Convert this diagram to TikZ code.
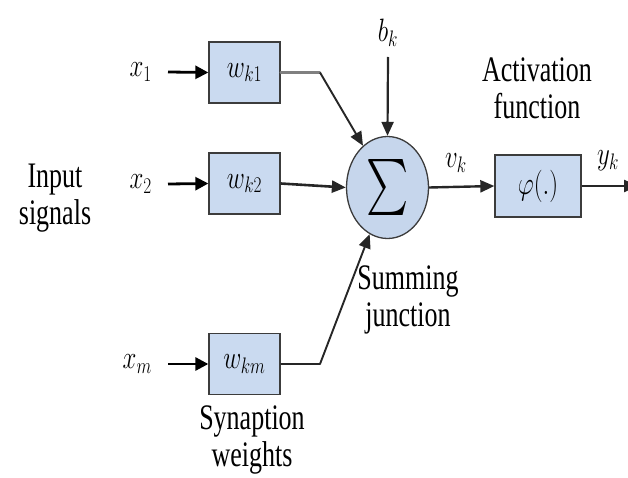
\documentclass[tikz,border=0pt]{standalone}
\usepackage{fontspec}
\setmainfont{Liberation Serif}
\usetikzlibrary{arrows.meta,shapes.geometric}
\definecolor{boxfill}{RGB}{202,218,240}
\definecolor{circfill}{RGB}{198,214,236}
\definecolor{edge}{RGB}{60,60,60}
\tikzset{
  wbox/.style={draw=edge,line width=1.3pt,fill=boxfill,minimum width=71pt,minimum height=61pt,inner sep=0pt},
  lbl/.style={font=\fontsize{26}{27}\selectfont,align=center,yscale=1.38,inner sep=0pt},
  mlbl/.style={font=\fontsize{25}{27}\selectfont,yscale=1.3,inner sep=0pt},
  inarrow/.style={line width=2.8pt,-{Triangle[length=13pt,width=13pt]}},
  conn/.style={line width=1.9pt,draw=black!85,line join=round,-{Triangle[length=14pt,width=12pt]}},
  seg/.style={line width=2.2pt,line cap=round},
}
\begin{document}
\begin{tikzpicture}[x=1pt,y=-1pt]
\useasboundingbox (0,0) rectangle (628,478);
% weight boxes
\node[wbox] (w1) at (244.5,72.5) {};
\node[wbox] (w2) at (244.5,183.5) {};
\node[wbox] (w3) at (244.5,364) {};
\node[mlbl] (w1t) at (w1.center) {$w_{k1}$};
\node[mlbl] (w2t) at (w2.center) {$w_{k2}$};
\node[mlbl] (w3t) at (w3.center) {$w_{km}$};
% input labels
\node[mlbl,anchor=east] (x1) at (152,72) {$x_1$};
\node[mlbl,anchor=east] (x2) at (152,184) {$x_2$};
\node[mlbl,anchor=east] (xm) at (152,364) {$x_m$};
\draw[inarrow] ([xshift=16pt]x1.east) -- (w1.west);
\draw[inarrow] ([xshift=16pt]x2.east) -- (w2.west);
\draw[inarrow] ([xshift=16pt]xm.east) -- (w3.west);
% summing junction
\node[ellipse,draw=edge,line width=1.3pt,fill=circfill,minimum width=82pt,minimum height=102pt,inner sep=0pt] (sum) at (387.5,187.5) {};
\node[inner sep=0pt] (sigma) at (sum.center) {\scalebox{4}[5.6]{$\sum$}};
% connectors into sum
\coordinate (k1) at (320,72.5);
\coordinate (km) at (320,364);
\draw[seg,draw=black!50] (w1.east) -- (k1);
\draw[conn] (k1) -- (sum);
\draw[conn,line width=2.6pt] (w2.east) -- (sum.west);
\draw[conn] (w3.east) -- (km) -- (sum);
% bias
\node[mlbl] (bk) at (388,33) {$b_k$};
\coordinate (bkstart) at (388,57);
\draw[conn,line width=2.2pt] (bkstart) -- (sum.north);
% activation
\node[wbox,minimum width=86pt,minimum height=62pt] (phi) at (538,186) {};
\node[mlbl] (phit) at (phi.center) {$\varphi(.)$};
\draw[conn,line width=2.4pt] (sum.east) -- (phi.west);
\node[mlbl] (vk) at (456,163) {$v_k$};
\node[mlbl] (yk) at (608,161) {$y_k$};
\coordinate (out) at (638,186);
\draw[conn,line width=2.4pt] (phi.east) -- (out);
% text labels
\node[lbl] (inp) at (55,198) {Input\\signals};
\node[lbl] (act) at (537,88) {Activation\\function};
\node[lbl] (sj) at (408,300) {Summing\\junction};
\node[lbl] (sw) at (252,440) {Synaption\\weights};
\end{tikzpicture}
\end{document}
